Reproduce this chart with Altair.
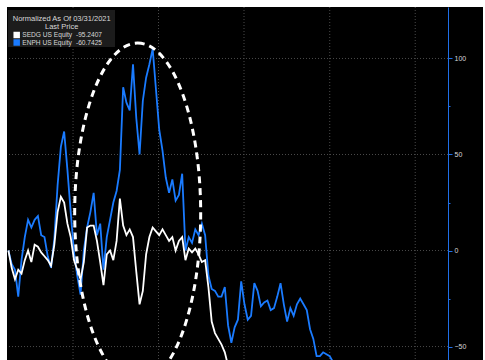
import altair as alt
import pandas as pd

# ---- data ----
start_date = "2021-03-31"          # normalisation date, first sample
sample_step = "14D"                # one reading every two weeks

enph = [0, -7, -10, -24, -5, 7, 16, 12, 16, 18, 8, 7, -3, -9, 6, 34, 54, 62, 42, 20,
        -1, -13, -23, 0, 12, 20, 30, 8, 14, -10, 7, 16, 25, 31, 42, 85, 77, 73, 97, 69,
        50, 78, 90, 97, 105, 84, 63, 52, 38, 30, 37, 26, 29, 40, 0, 7, 4, 11, 8, 14,
        8, -13, -20, -21, -24, -24, -19, -39, -48, -40, -36, -16, -28, -36, -34, -17, -21, -29, -27, -26,
        -31, -30, -24, -17, -28, -37, -30, -34, -28, -25, -28, -31, -41, -46, -55, -55, -53, -54, -55, -58,
        -61, -63]

sedg = [0, -9, -15, -10, -12, -5, 0, -6, 3, 2, -1, -3, -5, -8, 3, 20, 28, 25, 14, 7,
        -5, -10, -15, -6, 12, 13, 13, 5, -6, -18, -2, 0, -5, 5, 27, 13, 8, 11, 7, -11,
        -28, -21, -2, 7, 12, 10, 8, 11, 8, 5, 7, 0, 5, 7, -5, 1, -1, 1, -2, -6,
        -5, -19, -37, -43, -46, -49, -53, -60, -64, -68]

series_names = ["SEDG US Equity", "ENPH US Equity"]
last_prices = ["-95.2407", "-60.7425"]
series_colors = ["#ffffff", "#1a7bff"]
legend_title = ["Normalized As Of 03/31/2021", "Last Price"]

year_lines = ["2022-01-01", "2023-01-01", "2024-01-01", "2025-01-01", "2026-01-01"]
y_grid = [-50, 0, 50, 100]
y_ticks = [-50, -25, 0, 25, 50, 75, 100]

# highlighted region (dashed ellipse annotation)
ellipse_date = ["2022-10-04"]
ellipse_value = [19.5]

# ---- tables ----
rows = []
for name, vals in [(series_names[1], enph), (series_names[0], sedg)]:
    dates = pd.date_range(start_date, periods=len(vals), freq=sample_step)
    for d, v in zip(dates, vals):
        rows.append({"date": d.strftime("%Y-%m-%d"), "value": v, "series": name})
df = pd.DataFrame(rows)

legend_df = pd.DataFrame({"name": series_names, "price": last_prices,
                          "color": series_colors, "row": list(range(len(series_names)))})
title_df = pd.DataFrame({"line": legend_title, "row": list(range(len(legend_title)))})

x_scale = alt.Scale(domain=[alt.DateTime(year=2021, month=3, date=25),
                            alt.DateTime(year=2026, month=5, date=21)])
y_scale = alt.Scale(domain=[-57, 126.8], nice=False, zero=False)
FONT = "Liberation Sans"
TXT = "#d8d8d8"

# white frame around the black terminal panel
frame = [
    alt.Chart(pd.DataFrame({"k": [0]})).mark_rect(color="white").encode(
        x=alt.value(-7), x2=alt.value(0), y=alt.value(-7), y2=alt.value(353)),
    alt.Chart(pd.DataFrame({"k": [0]})).mark_rect(color="white").encode(
        x=alt.value(-7), x2=alt.value(478), y=alt.value(-7), y2=alt.value(0)),
    alt.Chart(pd.DataFrame({"k": [0]})).mark_rect(color="white").encode(
        x=alt.value(476), x2=alt.value(478), y=alt.value(-7), y2=alt.value(353)),
]

vgrid = alt.Chart(pd.DataFrame({"date": year_lines})).mark_rule(
    color="#4a4a4a", strokeDash=[1, 2], strokeWidth=1
).encode(x=alt.X("date:T", scale=x_scale, axis=None))

hgrid = alt.Chart(pd.DataFrame({"v": y_grid})).mark_rule(
    color="#4a4a4a", strokeDash=[1, 2], strokeWidth=1
).encode(y=alt.Y("v:Q", scale=y_scale))

lines = alt.Chart(df).mark_line(strokeWidth=1.8, clip=True).encode(
    x=alt.X("date:T", scale=x_scale, axis=None),
    y=alt.Y("value:Q", scale=y_scale, title=None,
            axis=alt.Axis(orient="right", values=y_ticks,
                          labelExpr="datum.value % 50 === 0 ? datum.label : ''",
                          domainColor="#1f6fe8", tickColor="#1f6fe8",
                          tickSize={"condition": {"test": "datum.value % 50 === 0", "value": 4}, "value": 2},
                          labelColor=TXT, labelFont=FONT, labelFontSize=7,
                          labelPadding=2, grid=False)),
    color=alt.Color("series:N", scale=alt.Scale(domain=series_names, range=series_colors),
                    legend=None),
)

ellipse = alt.Chart(pd.DataFrame({"date": ellipse_date, "value": ellipse_value})).mark_point(
    shape="M0,-1 A0.3706,1 0 1 1 0,1 A0.3706,1 0 1 1 0,-1 Z",
    size=115600, filled=False, stroke="white", strokeWidth=3,
    strokeDash=[7, 5], opacity=1, clip=True
).encode(x=alt.X("date:T", scale=x_scale, axis=None), y=alt.Y("value:Q", scale=y_scale))

# legend box drawn like the terminal's
legend_box = alt.Chart(pd.DataFrame({"k": [0]})).mark_rect(color="#1c1c1c").encode(
    x=alt.value(1), x2=alt.value(108), y=alt.value(3), y2=alt.value(40))

legend_title_txt = alt.Chart(title_df).transform_calculate(
    ypix="12.3 + 7.7 * datum.row"
).mark_text(align="center", baseline="middle", font=FONT, fontSize=7.5, color=TXT).encode(
    x=alt.value(54.7), y=alt.Y("ypix:Q", scale=None), text="line:N")

legend_base = alt.Chart(legend_df).transform_calculate(ypix="28 + 7.5 * datum.row")
legend_sq = legend_base.mark_square(size=42, opacity=1).encode(
    x=alt.value(9.7), y=alt.Y("ypix:Q", scale=None), color=alt.Color("color:N", scale=None))
legend_names = legend_base.mark_text(align="left", baseline="middle", font=FONT,
                                     fontSize=6.6, color=TXT).encode(
    x=alt.value(15.3), y=alt.Y("ypix:Q", scale=None), text="name:N")
legend_prices = legend_base.mark_text(align="left", baseline="middle", font=FONT,
                                      fontSize=6.6, color=TXT).encode(
    x=alt.value(69), y=alt.Y("ypix:Q", scale=None), text="price:N")

chart = alt.layer(*frame, vgrid, hgrid, lines, ellipse, legend_box, legend_title_txt,
                  legend_sq, legend_names, legend_prices).properties(
    width=441, height=353, background="black",
    padding={"left": 7, "top": 7, "right": 37, "bottom": 0},
    autosize=alt.AutoSizeParams(type="none"),
).configure_view(fill="black", strokeWidth=0)

chart.save("out.html", embed_options={"renderer": "svg", "actions": False})
